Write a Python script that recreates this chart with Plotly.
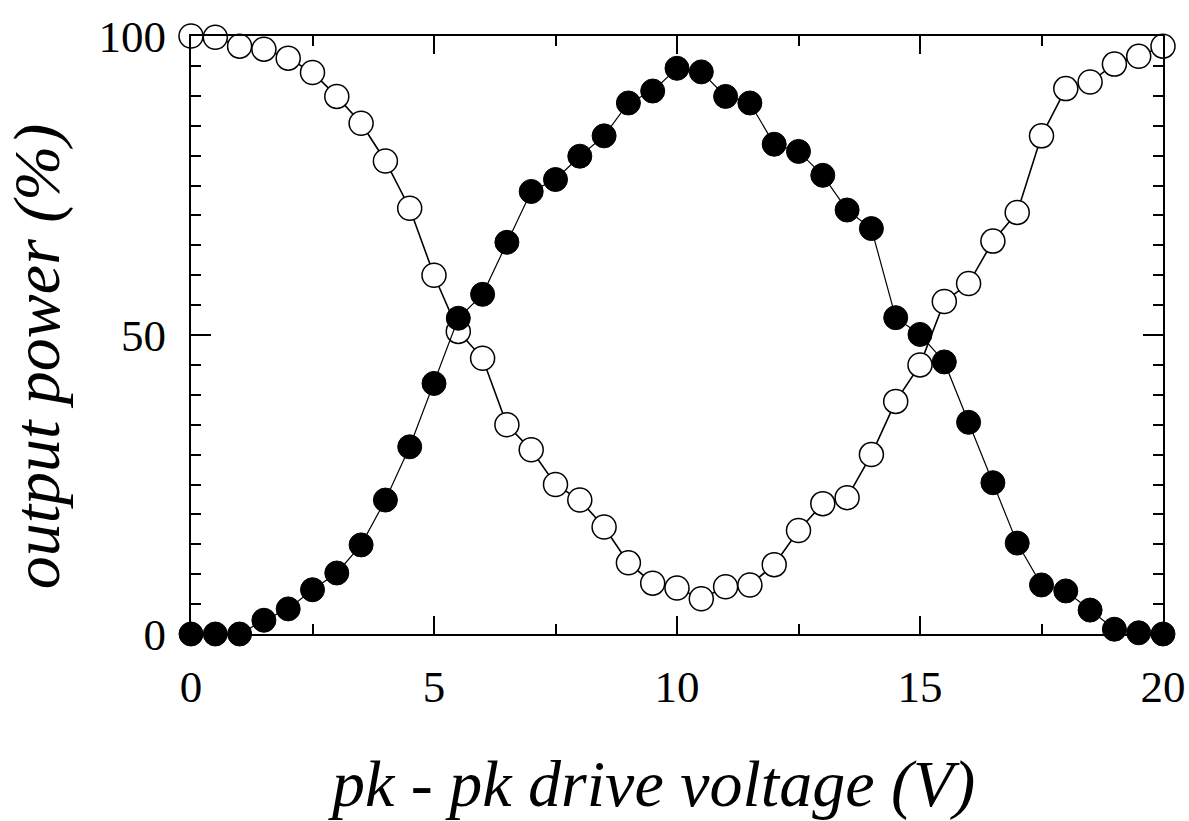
import plotly.graph_objects as go

voltage = [0, 0.5, 1, 1.5, 2, 2.5, 3, 3.5, 4, 4.5, 5, 5.5, 6, 6.5, 7, 7.5, 8, 8.5, 9, 9.5,
           10, 10.5, 11, 11.5, 12, 12.5, 13, 13.5, 14, 14.5, 15, 15.5, 16, 16.5, 17, 17.5,
           18, 18.5, 19, 19.5, 20]
power_filled = [0, 0, 0, 2.3, 4.2, 7.4, 10.2, 14.9, 22.4, 31.3, 41.9, 52.8, 56.8, 65.5, 74.0,
                76.0, 79.9, 83.3, 88.8, 90.8, 94.6, 94.0, 89.9, 88.8, 81.9, 80.7, 76.7, 70.9,
                67.8, 52.9, 50.1, 45.5, 35.4, 25.3, 15.2, 8.2, 7.2, 4.0, 0.8, 0.2, 0]
power_open = [100, 99.8, 98.3, 97.8, 96.3, 93.9, 89.9, 85.4, 79.1, 71.2, 60.0, 50.6, 46.1,
              35.0, 30.8, 25.0, 22.4, 17.9, 11.9, 8.5, 7.7, 5.9, 7.9, 8.2, 11.6, 17.3, 21.8,
              22.8, 30.0, 38.9, 45.0, 55.6, 58.6, 65.7, 70.5, 83.3, 91.2, 92.3, 95.3, 96.6, 98.3]

x_ticks = [0, 5, 10, 15, 20]
y_ticks = [0, 50, 100]
x_title = "pk - pk drive voltage (V)"
y_title = "output power (%)"

FONT = "Liberation Serif, Times New Roman, serif"

fig = go.Figure()
fig.add_trace(go.Scatter(
    x=voltage, y=power_open, mode="lines+markers", cliponaxis=False,
    line=dict(color="black", width=1.6),
    marker=dict(size=24, color="white", line=dict(color="black", width=1.5)),
    showlegend=False))
fig.add_trace(go.Scatter(
    x=voltage, y=power_filled, mode="lines+markers", cliponaxis=False,
    line=dict(color="black", width=1.2),
    marker=dict(size=24, color="black", line=dict(color="black", width=1)),
    showlegend=False))

axis_common = dict(showgrid=False, zeroline=False, showline=True, linecolor="black",
                   linewidth=2, mirror="ticks", ticks="inside", tickcolor="black",
                   tickwidth=2, tickfont=dict(family=FONT, size=45, color="black"))

fig.update_xaxes(range=[0, 20], tickvals=x_ticks, ticklen=18, ticklabelstandoff=12,
                 minor=dict(dtick=2.5, tick0=0, ticks="inside", ticklen=10,
                            tickwidth=2, tickcolor="black"),
                 **axis_common)
fig.update_yaxes(range=[0, 100], tickvals=y_ticks, ticklen=20, ticklabelstandoff=14,
                 minor=dict(dtick=5, tick0=0, ticks="inside", ticklen=10,
                            tickwidth=2, tickcolor="black"),
                 **axis_common)

fig.add_annotation(text="<i>" + x_title + "</i>", xref="paper", yref="paper",
                   x=0.474, y=-0.251, showarrow=False, xanchor="center", yanchor="middle",
                   font=dict(family=FONT, size=66, color="black"))
fig.add_annotation(text="<i>" + y_title + "</i>", xref="paper", yref="paper",
                   x=-0.158, y=0.465, showarrow=False, textangle=-90,
                   xanchor="center", yanchor="middle",
                   font=dict(family=FONT, size=66, color="black"))

fig.update_layout(width=1189, height=821, plot_bgcolor="white", paper_bgcolor="white",
                  margin=dict(l=191, r=26, t=36, b=187, autoexpand=False))

fig.write_html("out.html", config={"displayModeBar": False},
               post_script="document.body.style.margin='0';")
